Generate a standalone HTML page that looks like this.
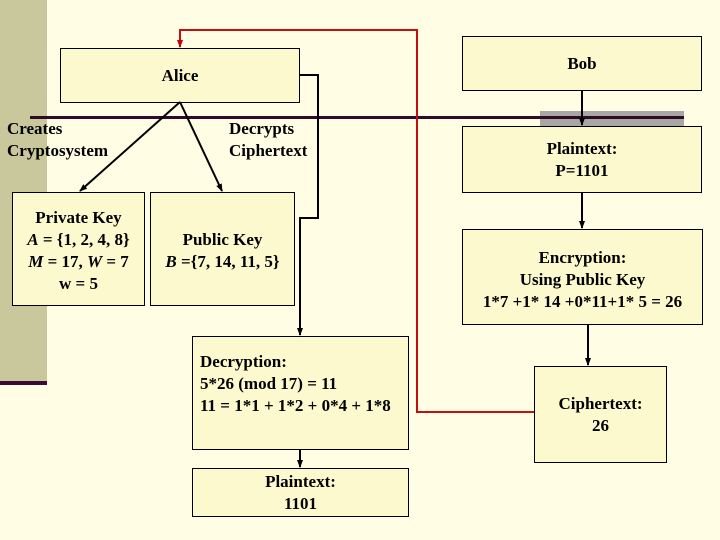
<!DOCTYPE html>
<html><head><style>
html,body{margin:0;padding:0}
body{width:720px;height:540px;background:#fffde3;position:relative;overflow:hidden;font-family:"Liberation Serif",serif;font-weight:bold;font-size:17px;color:#000}
.b{position:absolute;background:#fdf9cf;border:1px solid #000;box-sizing:border-box;display:flex;align-items:center;justify-content:center;text-align:center;line-height:22px}
.t{position:absolute;line-height:22px}
</style></head><body>
<div style="position:absolute;left:0;top:0;width:47px;height:383px;background:#c9c79c"></div>
<div style="position:absolute;left:0;top:381px;width:47px;height:4px;background:#3a0a33"></div>
<div style="position:absolute;left:540px;top:111px;width:144px;height:15px;background:#a9a7a4"></div>
<div style="position:absolute;left:30px;top:116px;width:654px;height:3px;background:#300a28"></div>

<div class="b" style="left:60px;top:48px;width:240px;height:55px"><div>Alice</div></div>
<div class="b" style="left:462px;top:36px;width:240px;height:55px"><div>Bob</div></div>
<div class="b" style="left:462px;top:126px;width:240px;height:67px"><div>Plaintext:<br>P=1101</div></div>
<div class="b" style="left:462px;top:229px;width:241px;height:96px"><div style="margin-top:6px">Encryption:<br>Using Public Key<br>1*7 +1* 14 +0*11+1* 5 = 26</div></div>
<div class="b" style="left:534px;top:366px;width:133px;height:97px"><div>Ciphertext:<br>26</div></div>
<div class="b" style="left:12px;top:192px;width:133px;height:114px;align-items:flex-start;padding-top:14px"><div>Private Key<br><i>A</i> = {1, 2, 4, 8}<br><i>M</i> = 17, <i>W</i> = 7<br>w = 5</div></div>
<div class="b" style="left:150px;top:192px;width:145px;height:114px;align-items:flex-start;padding-top:36px"><div>Public Key<br><i>B</i> ={7, 14, 11, 5}</div></div>
<div class="b" style="left:192px;top:336px;width:217px;height:114px;justify-content:flex-start;align-items:flex-start;text-align:left;padding:14px 0 0 7px"><div>Decryption:<br>5*26 (mod 17) = 11<br>11 = 1*1 + 1*2 + 0*4 + 1*8</div></div>
<div class="b" style="left:192px;top:468px;width:217px;height:49px"><div>Plaintext:<br>1101</div></div>

<div class="t" style="left:7px;top:118px">Creates<br>Cryptosystem</div>
<div class="t" style="left:229px;top:118px">Decrypts<br>Ciphertext</div>

<svg width="720" height="540" style="position:absolute;left:0;top:0">
<defs><marker id="a" markerWidth="8" markerHeight="8" refX="7" refY="4" orient="auto" markerUnits="userSpaceOnUse"><path d="M0,1 L8,4 L0,7z" fill="#000"/></marker>
<marker id="r" markerWidth="8" markerHeight="8" refX="7" refY="4" orient="auto" markerUnits="userSpaceOnUse"><path d="M0,1 L8,4 L0,7z" fill="#c00"/></marker></defs>
<g stroke="#000" stroke-width="2" fill="none">
<line x1="180" y1="102" x2="80" y2="191" marker-end="url(#a)"/>
<line x1="180" y1="102" x2="222" y2="191" marker-end="url(#a)"/>
<polyline points="300,75 318,75 318,218 300,218 300,335" marker-end="url(#a)"/>
<line x1="582" y1="91" x2="582" y2="125" marker-end="url(#a)"/>
<line x1="582" y1="193" x2="582" y2="228" marker-end="url(#a)"/>
<line x1="588" y1="325" x2="588" y2="365" marker-end="url(#a)"/>
<line x1="300" y1="450" x2="300" y2="467" marker-end="url(#a)"/>
</g>
<polyline points="534,412 417,412 417,30 180,30 180,47" stroke="#c01010" stroke-width="2" fill="none" marker-end="url(#r)"/>
</svg>
</body></html>
